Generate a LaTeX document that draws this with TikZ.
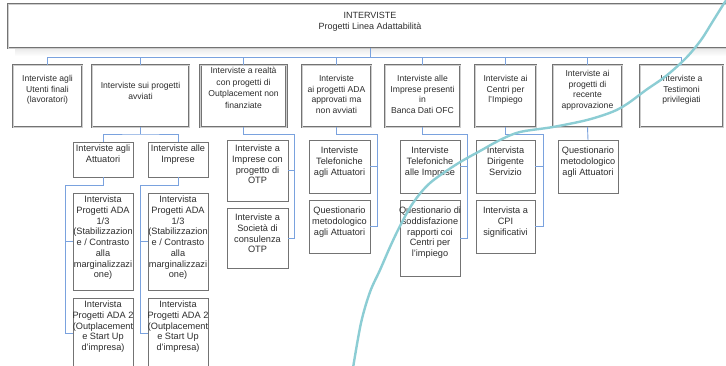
\documentclass[tikz,border=0pt]{standalone}
\usepackage{fontspec}
\setmainfont{Liberation Sans}
\usetikzlibrary{calc}

\definecolor{conn}{RGB}{122,162,222}
\definecolor{arcol}{RGB}{140,205,212}
\definecolor{frame}{RGB}{115,115,115}
\definecolor{frameinner}{RGB}{205,205,205}
\definecolor{shade}{RGB}{200,200,200}
\definecolor{ink}{RGB}{45,45,45}

\tikzset{
  wire/.style={draw=conn, line width=0.9pt},
  heavyframe/.style={draw=frame, line width=0.8pt, double=frameinner, double distance=1pt, fill=white},
  lvone/.style={heavyframe, anchor=north west, inner sep=0pt, outer sep=0pt, minimum height=62pt},
  lvtwo/.style={draw=frame, line width=0.9pt, fill=white, anchor=north west, inner sep=0pt, outer sep=0pt},
  txtone/.style={font=\fontsize{8.6}{10.6}\selectfont, align=center, inner sep=0pt, anchor=north, text=ink},
  txtonewide/.style={font=\fontsize{8.6}{11.5}\selectfont, align=center, inner sep=0pt, anchor=north, text=ink},
  txttwo/.style={font=\fontsize{9.2}{10.7}\selectfont, align=center, inner sep=0pt, anchor=north, text=ink},
  arcline/.style={draw=arcol, line width=2.4pt, line cap=round},
}

\begin{document}
\begin{tikzpicture}[x=1pt,y=-1pt]
\useasboundingbox (0,0) rectangle (726,365);
\clip (0,0) rectangle (726,365);
\fill[white] (0,0) rectangle (726,365);

% title banner with its drop shadow
\fill[shade] (15,11) rectangle (740,56);
\node[heavyframe, anchor=north west, inner sep=0pt, outer sep=0pt,
      minimum width=724pt, minimum height=44pt] (top) at (8,4) {};
\node[font=\fontsize{9}{11}\selectfont, align=center, inner sep=0pt, anchor=north, text=ink]
  (toptxt) at (370,12) {INTERVISTE\\Progetti Linea Adattabilità};

% first level
\node[lvone, minimum width=69pt] (n1) at (13,65) {};
\node[lvone, minimum width=97pt] (n2) at (92,65) {};
\node[lvone, minimum width=86pt] (n3) at (200.5,65) {};
\node[lvone, minimum width=69pt] (n4) at (302,65) {};
\node[lvone, minimum width=75pt] (n5) at (385,65) {};
\node[lvone, minimum width=61pt] (n6) at (475,65) {};
\node[lvone, minimum width=69pt] (n7) at (553,65) {};
\node[lvone, minimum width=83pt] (n8) at (640,65) {};

\node[txtone] (t1) at ($(n1.north)+(0,10)$) {Interviste agli\\Utenti finali\\(lavoratori)};
\node[txtone] (t2) at ($(n2.north)+(0,17)$) {Interviste sui progetti\\avviati};
\node[txtonewide] (t3) at ($(n3.north)+(0,2)$) {Interviste a realtà\\con progetti di\\Outplacement non\\finanziate};
\node[txtone] (t4) at ($(n4.north)+(0,10)$) {Interviste\\ai progetti ADA\\approvati ma\\non avviati};
\node[txtone] (t5) at ($(n5.north)+(0,10)$) {Interviste alle\\Imprese presenti\\in\\Banca Dati OFC};
\node[txtone] (t6) at ($(n6.north)+(0,10)$) {Interviste ai\\Centri per\\l’Impiego};
\node[txtone] (t7) at ($(n7.north)+(0,5)$) {Interviste ai\\progetti di\\recente\\approvazione};
\node[txtone] (t8) at ($(n8.north)+(0,10)$) {Interviste a\\Testimoni\\privilegiati};

% bus from the banner to the first level
\coordinate (bus) at (0,57);
\draw[wire] (top.south) -- (top.south |- bus);
\draw[wire] (n1.north |- bus) -- (n8.north |- bus);
\foreach \k in {1,...,8} { \draw[wire] (n\k.north |- bus) -- (n\k.north); }

% second level under "progetti avviati"
\node[lvtwo, minimum width=60pt, minimum height=35pt] (a) at (73,142) {};
\node[lvtwo, minimum width=60pt, minimum height=35pt] (b) at (148,142) {};
\node[lvtwo, minimum width=60pt, minimum height=97pt] (a1) at (73,193) {};
\node[lvtwo, minimum width=60pt, minimum height=70pt] (a2) at (73,298) {};
\node[lvtwo, minimum width=60pt, minimum height=97pt] (b1) at (148,193) {};
\node[lvtwo, minimum width=60pt, minimum height=70pt] (b2) at (148,298) {};

\node[txttwo] (ta) at ($(a.north)+(0,3)$) {Interviste agli\\Attuatori};
\node[txttwo] (tb) at ($(b.north)+(0,3)$) {Interviste alle\\Imprese};
\node[txttwo] (ta1) at ($(a1.north)+(0,3)$) {Intervista\\Progetti ADA\\1/3\\(Stabilizzazion\\e / Contrasto\\alla\\marginalizzazi\\one)};
\node[txttwo] (ta2) at ($(a2.north)+(0,3)$) {Intervista\\Progetti ADA 2\\(Outplacement\\e Start Up\\d’impresa)};
\node[txttwo] (tb1) at ($(b1.north)+(0,3)$) {Intervista\\Progetti ADA\\1/3\\(Stabilizzazion\\e / Contrasto\\alla\\marginalizzazi\\one)};
\node[txttwo] (tb2) at ($(b2.north)+(0,3)$) {Intervista\\Progetti ADA 2\\(Outplacement\\e Start Up\\d’impresa)};

\coordinate (j2) at (n2.south |- 0,134);
\draw[wire] (n2.south) -- (j2);
\draw[wire] (a.north) |- (j2) -| (b.north);
\coordinate (ra) at (65,185);
\coordinate (rb) at (140,185);
\draw[wire] (a.south) |- (ra) |- (a2.west);
\draw[wire] (ra) |- (a1.west);
\draw[wire] (b.south) |- (rb) |- (b2.west);
\draw[wire] (rb) |- (b1.west);

% second level under the other branches
\node[lvtwo, minimum width=61pt, minimum height=61pt] (c3a) at (227,140) {};
\node[lvtwo, minimum width=61pt, minimum height=60pt] (c3b) at (227,208) {};
\node[lvtwo, minimum width=61pt, minimum height=53pt] (c4a) at (309,140) {};
\node[lvtwo, minimum width=61pt, minimum height=53pt] (c4b) at (309,200) {};
\node[lvtwo, minimum width=60pt, minimum height=53pt] (c5a) at (400,140) {};
\node[lvtwo, minimum width=60pt, minimum height=76pt] (c5b) at (400,200) {};
\node[lvtwo, minimum width=59pt, minimum height=53pt] (c6a) at (476,140) {};
\node[lvtwo, minimum width=59pt, minimum height=53pt] (c6b) at (476,200) {};
\node[lvtwo, minimum width=60pt, minimum height=53pt] (c7a) at (558,140) {};

\node[txttwo] (tc3a) at ($(c3a.north)+(0,5)$) {Interviste a\\Imprese con\\progetto di\\OTP};
\node[txttwo] (tc3b) at ($(c3b.north)+(0,6)$) {Interviste a\\Società di\\consulenza\\OTP};
\node[txttwo] (tc4a) at ($(c4a.north)+(0,7)$) {Interviste\\Telefoniche\\agli Attuatori};
\node[txttwo] (tc4b) at ($(c4b.north)+(0,7)$) {Questionario\\metodologico\\agli Attuatori};
\node[txttwo] (tc5a) at ($(c5a.north)+(0,7)$) {Interviste\\Telefoniche\\alle Imprese};
\node[txttwo] (tc5b) at ($(c5b.north)+(0,7)$) {Questionario di\\soddisfazione\\rapporti coi\\Centri per\\l’impiego};
\node[txttwo] (tc6a) at ($(c6a.north)+(0,7)$) {Intervista\\Dirigente\\Servizio};
\node[txttwo] (tc6b) at ($(c6b.north)+(0,7)$) {Intervista a\\CPI\\significativi};
\node[txttwo] (tc7a) at ($(c7a.north)+(0,7)$) {Questionario\\metodologico\\agli Attuatori};

\coordinate (r3) at (294,134);
\draw[wire] (n3.south) |- (r3) |- (c3b.east);
\draw[wire] (r3) |- (c3a.east);
\coordinate (r4) at (377,134);
\draw[wire] (n4.south) |- (r4) |- (c4b.east);
\draw[wire] (r4) |- (c4a.east);
\coordinate (r5) at (467,134);
\draw[wire] (n5.south) |- (r5) |- (c5b.east);
\draw[wire] (r5) |- (c5a.east);
\coordinate (r6) at (543,134);
\draw[wire] (n6.south) |- (r6) |- (c6b.east);
\draw[wire] (r6) |- (c6a.east);
\draw[wire] (n7.south) -- (c7a.north);

% sweeping stroke across the chart
\draw[arcline] plot[smooth, tension=0.55] coordinates {
  (734,-10) (725,2) (713,21) (701,40) (686,58) (666,76) (646,90) (627,104)
  (612,112) (587,120) (553,127) (520,132) (500,140) (480,151) (457,164)
  (430,183) (413,203) (400,226) (390,247) (380,270) (370,292) (361,323) (353,368)};
\end{tikzpicture}
\end{document}
